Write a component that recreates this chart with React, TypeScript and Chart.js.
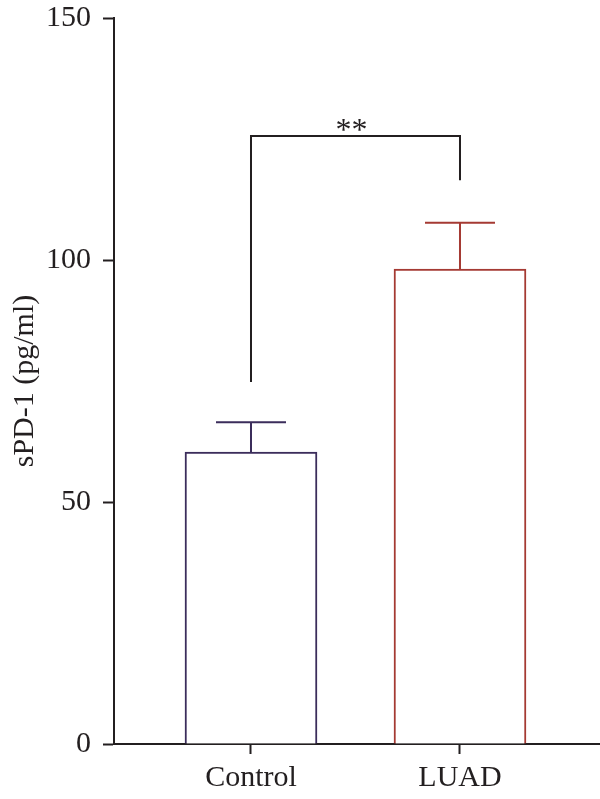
import React, { useEffect, useRef } from "react";
import { Chart, registerables } from "chart.js";

Chart.register(...registerables);

const categories = ["Control", "LUAD"];
const categoryPositions = [1, 2];
const means = [60.3, 98.1];
const errors = [6.2, 9.6];
const barColors = ["#3b2d5b", "#a53a33"];
const yTicks = [0, 50, 100, 150];
const bracketTop = 125.6;
const bracketLeftBottom = 74.8;
const bracketRightBottom = 116.5;
const significance = "**";

const FONT = "'Liberation Serif', 'DejaVu Serif', serif";
const INK = "#231f20";

export default function App() {
  const ref = useRef<HTMLCanvasElement | null>(null);

  useEffect(() => {
    if (!ref.current) return;

    const overlay = {
      id: "overlay",
      afterDatasetsDraw(chart: any) {
        const ctx = chart.ctx;
        const xs = chart.scales.x;
        const ys = chart.scales.y;
        ctx.save();
        categoryPositions.forEach((pos, i) => {
          const px = xs.getPixelForValue(pos);
          const yTop = ys.getPixelForValue(means[i] + errors[i]);
          const yBar = ys.getPixelForValue(means[i]);
          ctx.strokeStyle = barColors[i];
          ctx.lineWidth = 2;
          ctx.beginPath();
          ctx.moveTo(px, yBar);
          ctx.lineTo(px, yTop);
          ctx.moveTo(px - 35, yTop);
          ctx.lineTo(px + 35, yTop);
          ctx.stroke();
        });
        const x1 = xs.getPixelForValue(categoryPositions[0]);
        const x2 = xs.getPixelForValue(categoryPositions[1]);
        const yt = ys.getPixelForValue(bracketTop);
        ctx.strokeStyle = INK;
        ctx.lineWidth = 2;
        ctx.beginPath();
        ctx.moveTo(x1, ys.getPixelForValue(bracketLeftBottom));
        ctx.lineTo(x1, yt);
        ctx.lineTo(x2, yt);
        ctx.lineTo(x2, ys.getPixelForValue(bracketRightBottom));
        ctx.stroke();
        ctx.fillStyle = INK;
        ctx.font = `32px ${FONT}`;
        ctx.textAlign = "center";
        ctx.textBaseline = "alphabetic";
        ctx.fillText(significance, (x1 + x2) / 2 - 4, yt + 4);
        ctx.restore();
      },
    };

    const chart = new Chart(ref.current, {
      type: "bar",
      data: {
        datasets: [
          {
            data: categoryPositions.map((x, i) => ({ x, y: means[i] })),
            backgroundColor: "#ffffff",
            borderColor: barColors,
            borderWidth: 2,
            barThickness: 132,
          } as any,
        ],
      },
      options: {
        animation: false,
        responsive: false,
        maintainAspectRatio: false,
        layout: { padding: { top: 18, right: 0, left: 0, bottom: 0 } },
        plugins: { legend: { display: false }, tooltip: { enabled: false } },
        scales: {
          x: {
            type: "linear",
            min: 0.3445,
            max: 2.6699,
            offset: false,
            afterFit(scale: any) {
              scale.height = 55;
              scale.paddingLeft = 0;
              scale.paddingRight = 0;
            },
            afterBuildTicks(scale: any) {
              scale.ticks = categoryPositions.map((v) => ({ value: v }));
            },
            ticks: {
              autoSkip: false,
              maxRotation: 0,
              padding: 6,
              color: INK,
              font: { family: FONT, size: 30 },
              callback: (v: any) => {
                const i = categoryPositions.indexOf(Number(v));
                return i >= 0 ? categories[i] : "";
              },
            },
            grid: {
              offset: false,
              drawOnChartArea: false,
              drawTicks: true,
              tickLength: 10,
              tickWidth: 2,
              color: INK,
            },
            border: { display: true, color: INK, width: 2 },
          },
          y: {
            min: 0,
            max: 150,
            afterFit(scale: any) {
              scale.width = 114;
              scale.paddingTop = 0;
              scale.paddingBottom = 0;
            },
            afterBuildTicks(scale: any) {
              scale.ticks = yTicks.map((v) => ({ value: v }));
            },
            ticks: {
              padding: 12,
              color: INK,
              font: { family: FONT, size: 30 },
            },
            grid: {
              drawOnChartArea: false,
              drawTicks: true,
              tickLength: 11,
              tickWidth: 2,
              color: INK,
            },
            border: { display: true, color: INK, width: 2 },
            title: {
              display: true,
              text: "sPD-1 (pg/ml)",
              color: INK,
              font: { family: FONT, size: 30 },
              padding: { top: 7, bottom: 0 },
            },
          },
        },
      },
      plugins: [overlay],
    });

    return () => chart.destroy();
  }, []);

  return (
    <div style={{ position: "fixed", left: 0, top: 0, width: 600, height: 799, background: "#fff" }}>
      <canvas ref={ref} width={600} height={799} style={{ display: "block", width: 600, height: 799 }} />
    </div>
  );
}
